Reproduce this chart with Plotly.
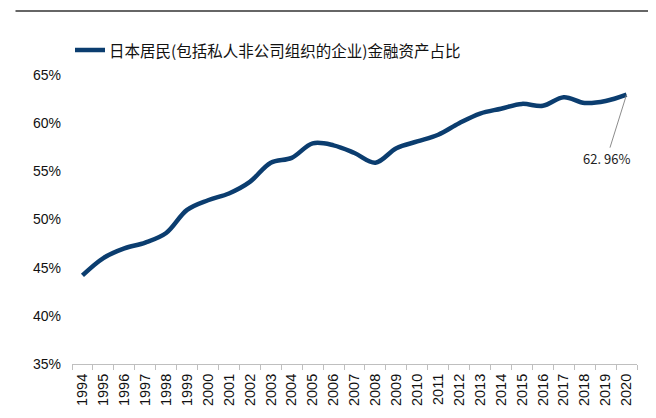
import plotly.graph_objects as go

years = [str(y) for y in range(1994, 2021)]
share = [44.2, 46.0, 47.0, 47.6, 48.6, 51.0, 52.0, 52.7, 53.9, 55.9, 56.4, 57.9, 57.7, 56.9,
         55.9, 57.4, 58.1, 58.8, 60.0, 61.0, 61.5, 62.0, 61.8, 62.7, 62.1, 62.3, 62.96]
series_name = "日本居民(包括私人非公司组织的企业)金融资产占比"
y_ticks = [35, 40, 45, 50, 55, 60, 65]
y_tick_text = [f"{v}%" for v in y_ticks]
last_label = "62. 96%"

LINE_COLOR = "#0b3d6f"
OFF = 8  # page body margin
W, H = 656 - OFF, 418 - OFF
ML, MT = 72 - OFF, 75 - OFF
MR, MB = W - (637 - OFF), H - (364 - OFF)
PW, PH = W - ML - MR, H - MT - MB


def px_to_paper(xp, yp):
    # xp, yp in page pixels
    return (xp - OFF - ML) / PW, 1 - (yp - OFF - MT) / PH


fig = go.Figure()
fig.add_trace(go.Scatter(
    x=years, y=share, mode="lines", name=series_name, showlegend=False,
    line=dict(color=LINE_COLOR, width=4.5, shape="spline", smoothing=1.0),
))

fig.add_annotation(
    x=len(years) - 1, y=share[-1], text=last_label, showarrow=True,
    arrowhead=0, arrowwidth=1, arrowcolor="#8c8c8c",
    ax=-20, ay=64, font=dict(family="Noto Sans CJK SC", size=13, color="#222"),
)

# manual legend
lx0, ly = px_to_paper(75, 50)
lx1, _ = px_to_paper(105, 50)
tx, _ = px_to_paper(107, 50)
fig.add_shape(type="line", xref="paper", yref="paper", x0=lx0, x1=lx1, y0=ly, y1=ly,
              line=dict(color=LINE_COLOR, width=4.5))
fig.add_annotation(xref="paper", yref="paper", x=tx, y=ly, xanchor="left", yanchor="middle",
                   text=series_name, showarrow=False,
                   font=dict(family="Noto Sans CJK SC", size=15.5, color="#111"))

# top border line
_, ty = px_to_paper(0, 11)
fig.add_shape(type="line", xref="paper", yref="paper", x0=-0.1, x1=1.02,
              y0=ty, y1=ty, layer="above", line=dict(color="#666666", width=2))

fig.update_layout(
    width=W, height=H,
    margin=dict(l=ML, r=MR, t=MT, b=MB),
    paper_bgcolor="white", plot_bgcolor="white",
    showlegend=False,
    xaxis=dict(type="category", range=[-0.5, len(years) - 0.5], tickangle=-90,
               showline=True, linecolor="#bfbfbf",
               ticks="outside", tickson="boundaries", ticklen=5, tickcolor="#bfbfbf",
               showgrid=False, automargin=False, ticklabelstandoff=3,
               tickfont=dict(family="Liberation Sans", size=14.5, color="#111")),
    yaxis=dict(range=[35, 65], tickvals=y_ticks, ticktext=y_tick_text, showgrid=False,
               zeroline=False, showline=False, automargin=False, ticklabelstandoff=10,
               tickfont=dict(family="Liberation Sans", size=14, color="#111")),
)

fig.write_html("out.html")
